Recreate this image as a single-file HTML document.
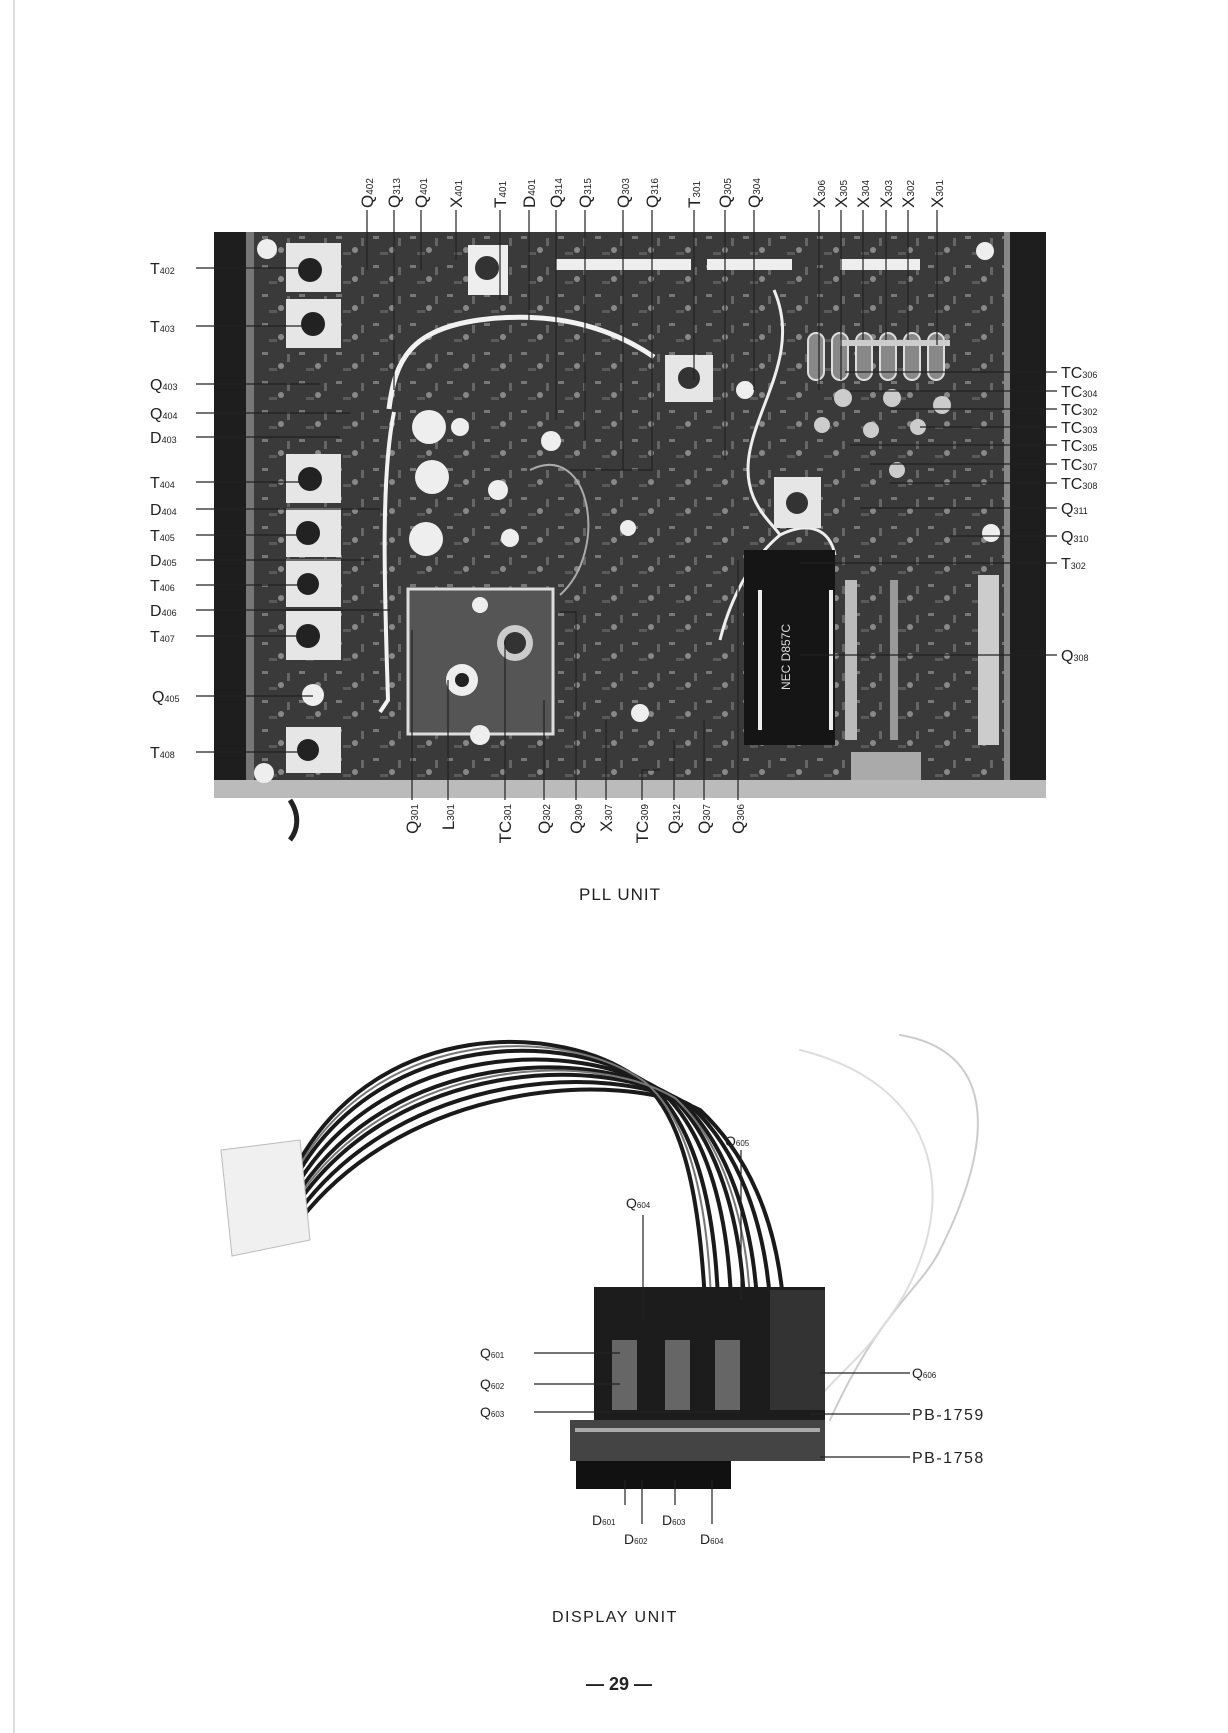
<!DOCTYPE html>
<html><head><meta charset="utf-8"><style>
html,body{margin:0;padding:0;background:#fff}
svg{display:block}
text{font-family:"Liberation Sans",sans-serif;fill:#222}
</style></head><body>
<svg width="1228" height="1733" viewBox="0 0 1228 1733" xmlns="http://www.w3.org/2000/svg">
<defs>
<pattern id="spk" width="37" height="29" patternUnits="userSpaceOnUse">
<rect x="3" y="4" width="6" height="3" fill="#777"/>
<circle cx="22" cy="18" r="3" fill="#888"/>
<rect x="28" y="6" width="3" height="8" fill="#666"/>
<rect x="10" y="20" width="8" height="3" fill="#5a5a5a"/>
</pattern>
</defs>
<rect width="1228" height="1733" fill="#fff"/>
<line x1="14" y1="0" x2="14" y2="1733" stroke="#ddd" stroke-width="2"/>
<!-- PLL BOARD -->
<g>
<rect x="214" y="232" width="832" height="566" fill="#3a3a3a"/>
<rect x="254" y="232" width="750" height="548" fill="url(#spk)"/>
<rect x="214" y="232" width="32" height="566" fill="#1e1e1e"/>
<rect x="246" y="232" width="8" height="566" fill="#777"/>
<rect x="1010" y="232" width="36" height="566" fill="#1e1e1e"/>
<rect x="1004" y="232" width="6" height="566" fill="#888"/>
<rect x="214" y="780" width="832" height="18" fill="#bbb"/>
<!-- cans left -->
<g fill="#e6e6e6">
<rect x="286" y="243" width="55" height="49"/><rect x="286" y="299" width="55" height="49"/>
<rect x="286" y="454" width="55" height="49"/><rect x="286" y="508" width="55" height="49"/>
<rect x="286" y="559" width="55" height="48"/><rect x="286" y="611" width="55" height="49"/>
<rect x="286" y="727" width="55" height="46"/>
</g>
<g fill="#222"><circle cx="310" cy="270" r="12"/><circle cx="313" cy="324" r="12"/><circle cx="310" cy="479" r="12"/><circle cx="308" cy="533" r="12"/><circle cx="308" cy="584" r="11"/><circle cx="308" cy="636" r="12"/><circle cx="308" cy="750" r="11"/></g>
<!-- headers -->
<g fill="#eee"><rect x="556" y="259" width="135" height="11"/><rect x="707" y="259" width="85" height="11"/><rect x="840" y="259" width="80" height="11"/><rect x="468" y="245" width="40" height="50"/></g>
<circle cx="487" cy="268" r="12" fill="#333"/>
<!-- white wire -->
<path d="M389 409 C395 360 410 330 479 320 C540 312 600 320 654 357" stroke="#f2f2f2" stroke-width="5" fill="none"/>
<path d="M394 412 C380 480 385 600 388 700 L380 712" stroke="#f2f2f2" stroke-width="4" fill="none"/>
<path d="M774 290 C800 350 760 400 750 450 C740 500 770 520 780 535 C750 560 730 600 720 640" stroke="#eee" stroke-width="3" fill="none"/>
<path d="M780 535 C810 520 830 530 835 555" stroke="#eee" stroke-width="3" fill="none"/>
<!-- caps -->
<g fill="#eee"><circle cx="429" cy="427" r="17"/><circle cx="432" cy="477" r="17"/><circle cx="426" cy="539" r="17"/><circle cx="460" cy="427" r="9"/><circle cx="551" cy="441" r="10"/><circle cx="498" cy="490" r="10"/><circle cx="510" cy="538" r="9"/><circle cx="628" cy="528" r="8"/><circle cx="745" cy="390" r="9"/><circle cx="640" cy="713" r="9"/><circle cx="991" cy="533" r="9"/><circle cx="985" cy="251" r="9"/><circle cx="267" cy="249" r="10"/><circle cx="264" cy="773" r="10"/><circle cx="313" cy="695" r="11"/></g>
<!-- shield box -->
<rect x="408" y="589" width="145" height="145" fill="#555" stroke="#ddd" stroke-width="3"/>
<circle cx="515" cy="643" r="18" fill="#ccc"/><circle cx="515" cy="643" r="11" fill="#333"/>
<circle cx="462" cy="680" r="16" fill="#eee"/><circle cx="462" cy="680" r="7" fill="#222"/>
<circle cx="480" cy="605" r="8" fill="#eee"/><circle cx="480" cy="735" r="10" fill="#eee"/>
<path d="M530 470 C590 440 610 550 560 595" stroke="#aaa" stroke-width="2" fill="none"/>
<!-- T301 T302 -->
<rect x="665" y="355" width="48" height="47" fill="#e6e6e6"/><circle cx="689" cy="378" r="11" fill="#333"/>
<rect x="774" y="477" width="47" height="51" fill="#e6e6e6"/><circle cx="797" cy="503" r="11" fill="#333"/>
<!-- crystals -->
<g fill="#888" stroke="#ddd" stroke-width="2"><rect x="808" y="333" width="16" height="47" rx="8"/><rect x="832" y="333" width="16" height="47" rx="8"/><rect x="856" y="333" width="16" height="47" rx="8"/><rect x="880" y="333" width="16" height="47" rx="8"/><rect x="904" y="333" width="16" height="47" rx="8"/><rect x="928" y="333" width="16" height="47" rx="8"/></g>
<g fill="#ccc"><circle cx="843" cy="398" r="9"/><circle cx="892" cy="398" r="9"/><circle cx="942" cy="405" r="9"/><circle cx="822" cy="425" r="8"/><circle cx="871" cy="430" r="8"/><circle cx="918" cy="427" r="8"/><circle cx="897" cy="470" r="8"/></g>
<!-- IC -->
<rect x="744" y="550" width="91" height="195" fill="#151515"/>
<g fill="#eee"><rect x="758" y="590" width="4" height="140"/><rect x="829" y="590" width="4" height="140"/></g>
<text x="790" y="690" font-size="12" fill="#ddd" style="fill:#ddd" transform="rotate(-90 790 690)">NEC D857C</text>
<rect x="978" y="575" width="21" height="170" fill="#ccc"/>
<rect x="845" y="580" width="12" height="160" fill="#bbb"/><rect x="890" y="580" width="8" height="160" fill="#999"/>
<rect x="840" y="340" width="110" height="6" fill="#ccc"/>
<rect x="851" y="752" width="70" height="28" fill="#aaa"/>
</g>
<!-- leader lines -->
<g stroke="#222" stroke-width="1.2" fill="none">
<path d="M367 210V270M394 210V390M421 210V270M456 210V260M500 210V300M529 210V320M556 210V420M585 210V440M623 210V470M652 210V470H570M694 210V380M725 210V460M754 210V390M819 210V390M841 210V380M863 210V340M886 210V340M908 210V340M937 210V345"/>
<path d="M196 268H310M196 326H313M196 384H320M196 413H350M196 437H340M196 482H310M196 509H380M196 535H308M196 560H370M196 585H308M196 610H390M196 636H308M196 696H313M196 752H308"/>
<path d="M1057 372H845M1057 391H850M1057 409H890M1057 427H920M1057 445H850M1057 464H870M1057 483H890M1057 508H860M1057 536H950M1057 563H800M1057 655H800"/>
<path d="M412 800V630M448 800V680M505 800V640M544 800V700M576 800V612H560M606 800V720M642 800V770H660M674 800V740M704 800V720M738 800V560"/>
</g>
<g font-size="17" text-anchor="start">
<text transform="translate(373,208) rotate(-90)">Q<tspan font-size="10">402</tspan></text>
<text transform="translate(400,208) rotate(-90)">Q<tspan font-size="10">313</tspan></text>
<text transform="translate(427,208) rotate(-90)">Q<tspan font-size="10">401</tspan></text>
<text transform="translate(462,208) rotate(-90)">X<tspan font-size="10">401</tspan></text>
<text transform="translate(506,208) rotate(-90)">T<tspan font-size="10">401</tspan></text>
<text transform="translate(535,208) rotate(-90)">D<tspan font-size="10">401</tspan></text>
<text transform="translate(562,208) rotate(-90)">Q<tspan font-size="10">314</tspan></text>
<text transform="translate(591,208) rotate(-90)">Q<tspan font-size="10">315</tspan></text>
<text transform="translate(629,208) rotate(-90)">Q<tspan font-size="10">303</tspan></text>
<text transform="translate(658,208) rotate(-90)">Q<tspan font-size="10">316</tspan></text>
<text transform="translate(700,208) rotate(-90)">T<tspan font-size="10">301</tspan></text>
<text transform="translate(731,208) rotate(-90)">Q<tspan font-size="10">305</tspan></text>
<text transform="translate(760,208) rotate(-90)">Q<tspan font-size="10">304</tspan></text>
<text transform="translate(825,208) rotate(-90)">X<tspan font-size="10">306</tspan></text>
<text transform="translate(847,208) rotate(-90)">X<tspan font-size="10">305</tspan></text>
<text transform="translate(869,208) rotate(-90)">X<tspan font-size="10">304</tspan></text>
<text transform="translate(892,208) rotate(-90)">X<tspan font-size="10">303</tspan></text>
<text transform="translate(914,208) rotate(-90)">X<tspan font-size="10">302</tspan></text>
<text transform="translate(943,208) rotate(-90)">X<tspan font-size="10">301</tspan></text>
</g>
<g font-size="16">
<text x="150" y="274">T<tspan font-size="9">402</tspan></text>
<text x="150" y="332">T<tspan font-size="9">403</tspan></text>
<text x="150" y="390">Q<tspan font-size="9">403</tspan></text>
<text x="150" y="419">Q<tspan font-size="9">404</tspan></text>
<text x="150" y="443">D<tspan font-size="9">403</tspan></text>
<text x="150" y="488">T<tspan font-size="9">404</tspan></text>
<text x="150" y="515">D<tspan font-size="9">404</tspan></text>
<text x="150" y="541">T<tspan font-size="9">405</tspan></text>
<text x="150" y="566">D<tspan font-size="9">405</tspan></text>
<text x="150" y="591">T<tspan font-size="9">406</tspan></text>
<text x="150" y="616">D<tspan font-size="9">406</tspan></text>
<text x="150" y="642">T<tspan font-size="9">407</tspan></text>
<text x="152" y="702">Q<tspan font-size="9">405</tspan></text>
<text x="150" y="758">T<tspan font-size="9">408</tspan></text>
</g>
<g font-size="16">
<text x="1061" y="378">TC<tspan font-size="9">306</tspan></text>
<text x="1061" y="397">TC<tspan font-size="9">304</tspan></text>
<text x="1061" y="415">TC<tspan font-size="9">302</tspan></text>
<text x="1061" y="433">TC<tspan font-size="9">303</tspan></text>
<text x="1061" y="451">TC<tspan font-size="9">305</tspan></text>
<text x="1061" y="470">TC<tspan font-size="9">307</tspan></text>
<text x="1061" y="489">TC<tspan font-size="9">308</tspan></text>
<text x="1061" y="514">Q<tspan font-size="9">311</tspan></text>
<text x="1061" y="542">Q<tspan font-size="9">310</tspan></text>
<text x="1061" y="569">T<tspan font-size="9">302</tspan></text>
<text x="1061" y="661">Q<tspan font-size="9">308</tspan></text>
</g>
<g font-size="17" text-anchor="end">
<text transform="translate(418,804) rotate(-90)">Q<tspan font-size="10">301</tspan></text>
<text transform="translate(454,804) rotate(-90)">L<tspan font-size="10">301</tspan></text>
<text transform="translate(511,804) rotate(-90)">TC<tspan font-size="10">301</tspan></text>
<text transform="translate(550,804) rotate(-90)">Q<tspan font-size="10">302</tspan></text>
<text transform="translate(582,804) rotate(-90)">Q<tspan font-size="10">309</tspan></text>
<text transform="translate(612,804) rotate(-90)">X<tspan font-size="10">307</tspan></text>
<text transform="translate(648,804) rotate(-90)">TC<tspan font-size="10">309</tspan></text>
<text transform="translate(680,804) rotate(-90)">Q<tspan font-size="10">312</tspan></text>
<text transform="translate(710,804) rotate(-90)">Q<tspan font-size="10">307</tspan></text>
<text transform="translate(744,804) rotate(-90)">Q<tspan font-size="10">306</tspan></text>
</g>
<text x="579" y="900" font-size="17" letter-spacing="1">PLL  UNIT</text>
<path d="M290 800 C300 815 298 830 290 840" stroke="#222" stroke-width="5" fill="none"/>

<!-- DISPLAY UNIT -->
<g fill="none" stroke-linecap="round">
<path d="M900 1035 C990 1050 1000 1130 940 1250 C920 1290 880 1310 830 1420" stroke="#ccc" stroke-width="2"/>
<path d="M800 1050 C960 1090 960 1230 880 1330 C860 1360 830 1380 810 1410" stroke="#ddd" stroke-width="2"/>
<g stroke="#1a1a1a" stroke-width="4">
<path d="M300 1160 C380 1020 560 1020 640 1080 C690 1120 700 1220 705 1300"/>
<path d="M300 1170 C385 1030 570 1030 650 1085 C700 1130 715 1220 718 1300"/>
<path d="M300 1180 C390 1040 580 1040 660 1090 C710 1135 728 1220 731 1300"/>
<path d="M300 1190 C395 1050 590 1048 670 1095 C718 1140 740 1220 744 1300"/>
<path d="M300 1200 C400 1060 600 1055 680 1100 C728 1145 752 1220 757 1300"/>
<path d="M300 1210 C405 1070 610 1062 690 1105 C738 1150 764 1220 770 1300"/>
<path d="M300 1220 C410 1080 620 1070 700 1110 C748 1155 776 1220 783 1300"/>
</g>
<g stroke="#777" stroke-width="2">
<path d="M300 1165 C382 1025 565 1025 645 1082 C695 1125 708 1220 711 1300"/>
<path d="M300 1195 C398 1055 595 1050 675 1098 C723 1142 746 1220 750 1300"/>
</g>
</g>
<polygon points="221,1150 300,1140 310,1240 232,1256" fill="#f0f0f0" stroke="#bbb"/>
<rect x="594" y="1287" width="231" height="140" fill="#1c1c1c"/>
<rect x="770" y="1290" width="55" height="120" fill="#333"/>
<rect x="570" y="1420" width="255" height="41" fill="#444"/>
<g fill="#aaa"><rect x="575" y="1428" width="245" height="4"/></g>
<rect x="576" y="1461" width="155" height="28" fill="#111"/>
<g fill="#666"><rect x="612" y="1340" width="25" height="70"/><rect x="665" y="1340" width="25" height="70"/><rect x="715" y="1340" width="25" height="70"/></g>
<g stroke="#222" stroke-width="1.2" fill="none">
<path d="M741 1150V1300M643 1215V1320M534 1353H620M534 1384H620M534 1412H740M910 1373H820M910 1414H810M910 1457H820M625 1505V1480M642 1524V1480M675 1505V1480M712 1524V1480"/>
</g>
<g font-size="14">
<text x="725" y="1146">Q<tspan font-size="8">605</tspan></text>
<text x="626" y="1208">Q<tspan font-size="8">604</tspan></text>
<text x="480" y="1358">Q<tspan font-size="8">601</tspan></text>
<text x="480" y="1389">Q<tspan font-size="8">602</tspan></text>
<text x="480" y="1417">Q<tspan font-size="8">603</tspan></text>
<text x="912" y="1378">Q<tspan font-size="8">606</tspan></text>
<text x="592" y="1525">D<tspan font-size="8">601</tspan></text>
<text x="624" y="1544">D<tspan font-size="8">602</tspan></text>
<text x="662" y="1525">D<tspan font-size="8">603</tspan></text>
<text x="700" y="1544">D<tspan font-size="8">604</tspan></text>
</g>
<g font-size="16" letter-spacing="1.5">
<text x="912" y="1420">PB-1759</text>
<text x="912" y="1463">PB-1758</text>
</g>
<text x="552" y="1622" font-size="16" letter-spacing="1.5">DISPLAY  UNIT</text>
<text x="586" y="1690" font-size="18" font-weight="bold">— 29 —</text>
</svg>
</body></html>
